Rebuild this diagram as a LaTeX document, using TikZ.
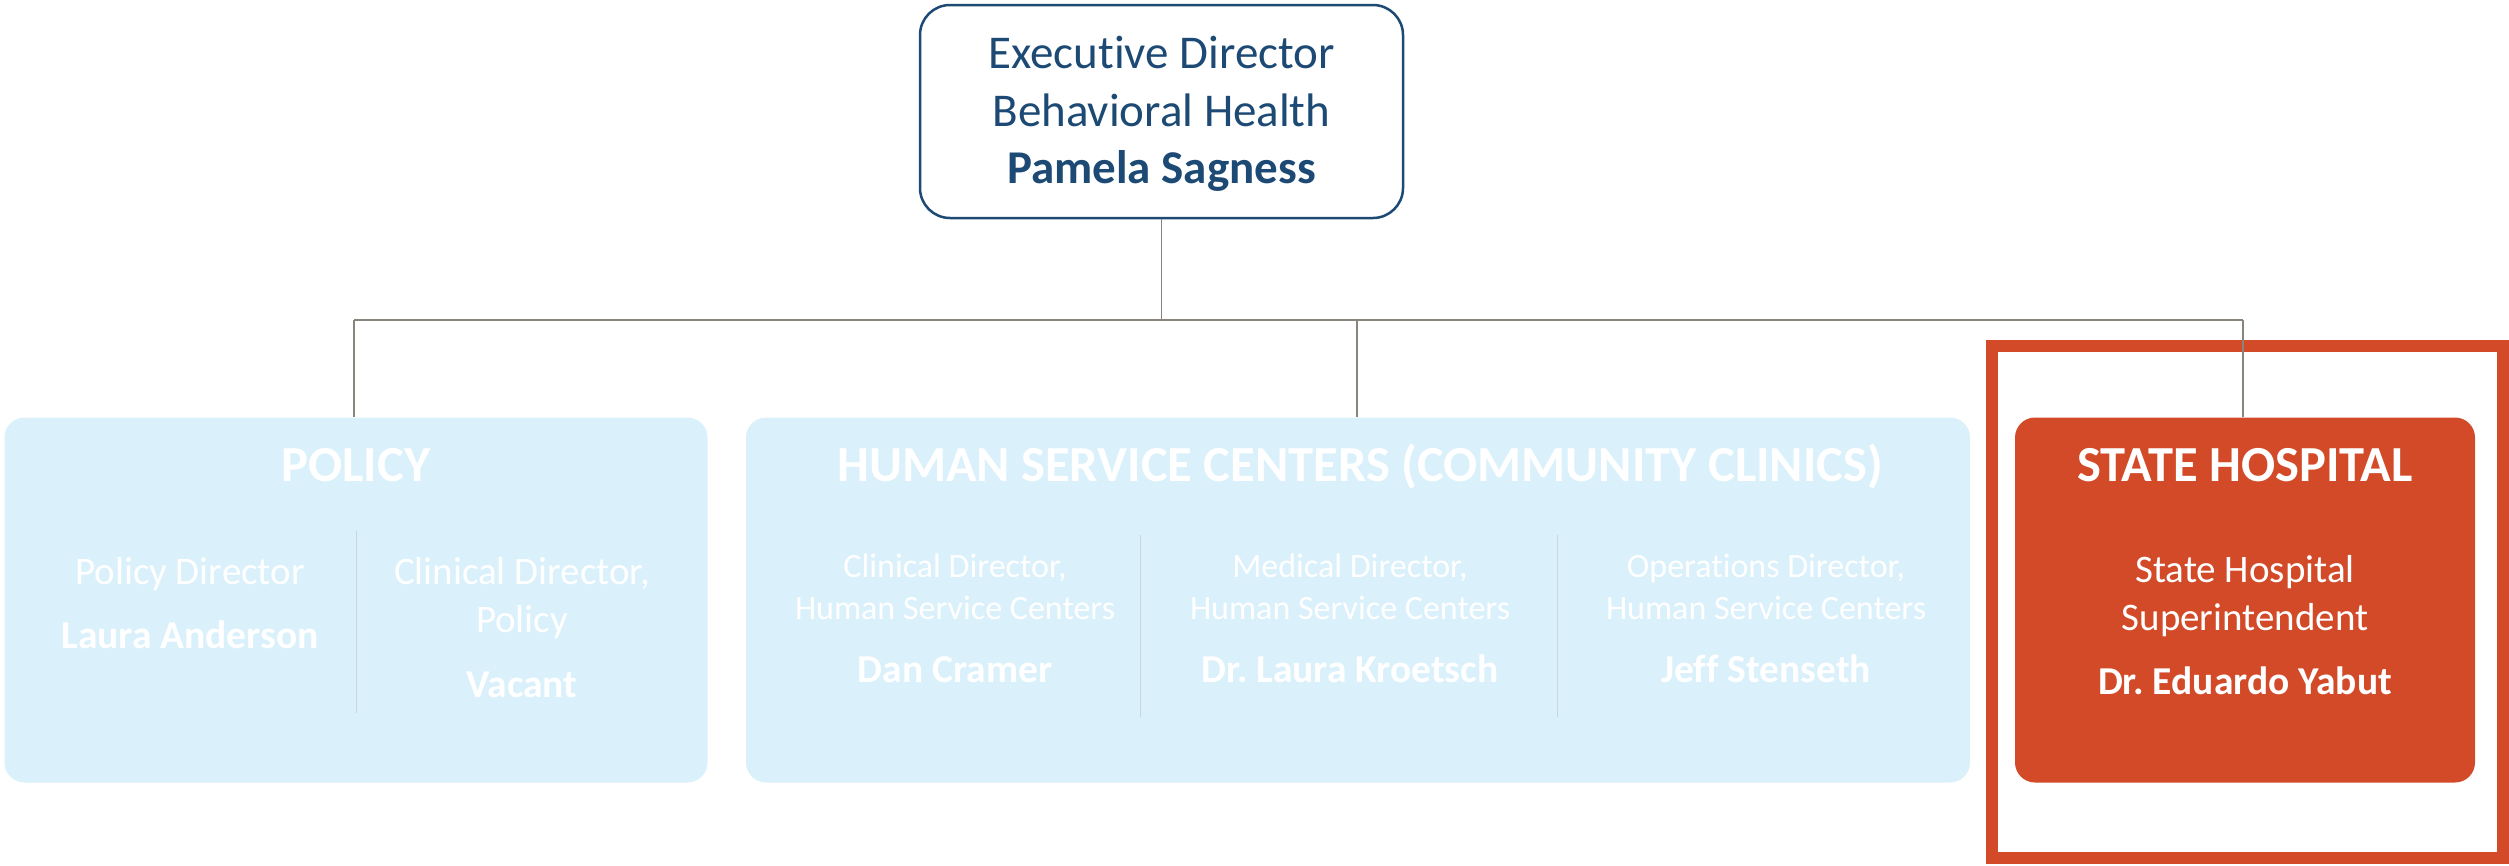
\documentclass[tikz,border=0pt]{standalone}
\usepackage{fontspec}
\setmainfont[Ligatures={NoCommon}]{Carlito}
\frenchspacing
\definecolor{navy}{HTML}{1D4A74}
\definecolor{lightblue}{HTML}{DAF1FC}
\definecolor{hosp}{HTML}{D34A29}
\definecolor{conn}{HTML}{8A847F}
\definecolor{divc}{HTML}{C9D6DC}
\tikzset{
  topbox/.style={draw=navy, line width=2.5pt, fill=white, rounded corners=30pt},
  lbox/.style={fill=lightblue, rounded corners=20pt},
  hbox/.style={fill=hosp, rounded corners=20pt},
  connector/.style={draw=conn, line width=1.8pt},
  divider/.style={draw=divc, line width=1pt},
  hdr/.style={anchor=base, text=white, font=\fontsize{50.5}{60}\selectfont\bfseries, inner sep=0pt},
  ttl/.style={anchor=base, text=white, font=\fontsize{39}{48}\selectfont, inner sep=0pt},
  ttls/.style={anchor=base, text=white, font=\fontsize{34}{42}\selectfont, inner sep=0pt},
  nm/.style={anchor=base, text=white, font=\fontsize{39.5}{48}\selectfont\bfseries, inner sep=0pt},
  toptxt/.style={anchor=base, text=navy, font=\fontsize{47}{58}\selectfont, inner sep=0pt},
}
\begin{document}
\begin{tikzpicture}[x=1pt,y=-1pt]
\useasboundingbox (0,0) rectangle (2509,865);
% boxes
\node[topbox, minimum width=483pt, minimum height=213pt] (exec) at (1161.5,111.5) {};
\node[lbox, minimum width=703pt, minimum height=365pt] (policy) at (356,600) {};
\node[lbox, minimum width=1224pt, minimum height=365pt] (hsc) at (1358,600) {};
\node[hbox, minimum width=460pt, minimum height=365pt] (hosp) at (2245,600) {};
\draw[draw=hosp, line width=12pt] (1992,346) rectangle (2503,858);
% connectors
\coordinate (bus) at (1161.5,320);
\coordinate (busL) at (354,320);
\coordinate (busM) at (1357,320);
\coordinate (busR) at (2243,320);
\draw[connector] (exec.south) -- (bus);
\draw[connector] (busL) -- (busR);
\draw[connector] (busL) -- (busL |- policy.north);
\draw[connector] (busM) -- (busM |- hsc.north);
\draw[connector] (busR) -- (busR |- hosp.north);
% exec text
\node[toptxt] (e1) at (1161.5,68) {Executive Director};
\node[toptxt] (e2) at (1161.5,126) {Behavioral Health};
\node[toptxt, font=\fontsize{47}{58}\selectfont\bfseries] (e3) at (1161.5,183) {Pamela Sagness};
% policy
\node[hdr] (ph) at (356,481) {POLICY};
\draw[divider] (356,531) -- (356,713);
\node[ttl] (p1t) at (190,584) {Policy Director};
\node[nm] (p1n) at (190,648) {Laura Anderson};
\node[ttl] (p2t) at (522,584) {Clinical Director,};
\node[ttl] (p2u) at (522,632) {Policy};
\node[nm] (p2n) at (522,697) {Vacant};
% hsc
\node[hdr] (hh) at (1360,481) {HUMAN SERVICE CENTERS (COMMUNITY CLINICS)};
\draw[divider] (1140,535) -- (1140,717);
\draw[divider] (1557,535) -- (1557,717);
\node[ttls] (h1t) at (955,577) {Clinical Director,};
\node[ttls] (h1u) at (955,619) {Human Service Centers};
\node[nm] (h1n) at (955,682) {Dan Cramer};
\node[ttls] (h2t) at (1350,577) {Medical Director,};
\node[ttls] (h2u) at (1350,619) {Human Service Centers};
\node[nm] (h2n) at (1350,682) {Dr. Laura Kroetsch};
\node[ttls] (h3t) at (1766,577) {Operations Director,};
\node[ttls] (h3u) at (1766,619) {Human Service Centers};
\node[nm] (h3n) at (1766,682) {Jeff Stenseth};
% hospital
\node[hdr] (sh) at (2245,481) {STATE HOSPITAL};
\node[ttl] (s1) at (2245,582) {State Hospital};
\node[ttl] (s2) at (2245,630) {Superintendent};
\node[nm] (s3) at (2245,694) {Dr. Eduardo Yabut};
\end{tikzpicture}
\end{document}
